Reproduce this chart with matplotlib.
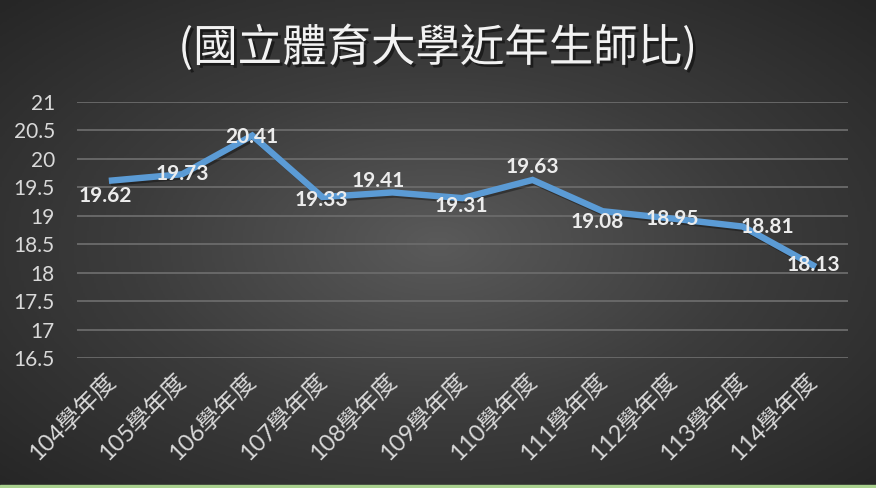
"""Student-teacher ratio chart, dark Excel style."""

import matplotlib

matplotlib.use("Agg")

import matplotlib.pyplot as plt
import matplotlib.patheffects as pe
import numpy as np
from matplotlib.colors import LinearSegmentedColormap

years = ["104學年度", "105學年度", "106學年度", "107學年度", "108學年度", "109學年度",
         "110學年度", "111學年度", "112學年度", "113學年度", "114學年度"]
ratios = [19.62, 19.73, 20.41, 19.33, 19.41, 19.31, 19.63, 19.08, 18.95, 18.81, 18.13]
y_ticks = [16.5, 17, 17.5, 18, 18.5, 19, 19.5, 20, 20.5, 21]
title = "(國立體育大學近年生師比)"

# label offsets in points (dx, dy), mimicking Excel's label placement
label_offsets = [(-5, -11), (0, 0), (0, -1), (-1, -2), (-10, 8), (-1, -6),
                 (0, 9), (-4, -8), (0, 0), (18, 0), (0, 0)]

fonts = ["Lato", "Noto Sans CJK TC", "DejaVu Sans"]
plt.rcParams["font.family"] = fonts

fig = plt.figure(figsize=(8.76, 4.88), dpi=100)

# radial gradient background
bg = fig.add_axes([0, 0, 1, 1], zorder=-10)
gx, gy = np.meshgrid(np.linspace(-1, 1, 400), np.linspace(-1, 1, 240))
r = np.clip(np.sqrt(gx ** 2 + gy ** 2) / np.sqrt(2), 0, 1)
cmap = LinearSegmentedColormap.from_list("bg", ["#5a5a5a", "#3c3c3c", "#262626"])
bg.imshow(r, cmap=cmap, aspect="auto", extent=[0, 1, 0, 1], vmin=0, vmax=1)
bg.axhspan(0, 3 / 488, color="#a9d18e")
bg.set_xlim(0, 1)
bg.set_ylim(0, 1)
bg.axis("off")

ax = fig.add_axes([77 / 876, 1 - 358 / 488, 771 / 876, 256 / 488])
ax.patch.set_alpha(0)
x = np.arange(len(years))
ax.plot(x, ratios, color="#5b9bd5", linewidth=4.6, solid_joinstyle="miter",
        path_effects=[pe.SimpleLineShadow(offset=(1.5, -1.5), alpha=0.35), pe.Normal()],
        zorder=3)

for xi, val, (dx, dy) in zip(x, ratios, label_offsets):
    ax.annotate(f"{val:.2f}", (xi, val), xytext=(dx, dy), textcoords="offset points",
                ha="center", va="center", fontsize=15, fontweight="bold",
                color="#ececec", zorder=4)

ax.set_xlim(-0.5, len(years) - 0.5)
ax.set_ylim(16.5, 21)
ax.set_yticks(y_ticks, [f"{t:g}" for t in y_ticks])
ax.set_xticks(x, years)
ax.tick_params(axis="y", length=0, pad=16, labelsize=15, labelcolor="#d9d9d9")
ax.tick_params(axis="x", length=0, pad=14, labelsize=17, labelcolor="#d9d9d9")
for lbl in ax.get_xticklabels():
    lbl.set_rotation(45)
    lbl.set_rotation_mode("anchor")
    lbl.set_ha("right")
    lbl.set_va("center")
ax.grid(axis="y", color="#6b6b6b", linewidth=1.3)
ax.set_axisbelow(True)
for spine in ax.spines.values():
    spine.set_visible(False)

fig.text(0.5, 1 - 48 / 488, title, ha="center", va="center", fontsize=32,
         color="#f2f2f2", family=["Noto Sans CJK TC", "DejaVu Sans"],
         path_effects=[pe.withSimplePatchShadow(offset=(2, -2), shadow_rgbFace="#111111", alpha=0.7)])

fig.savefig("out.png", dpi=100)
